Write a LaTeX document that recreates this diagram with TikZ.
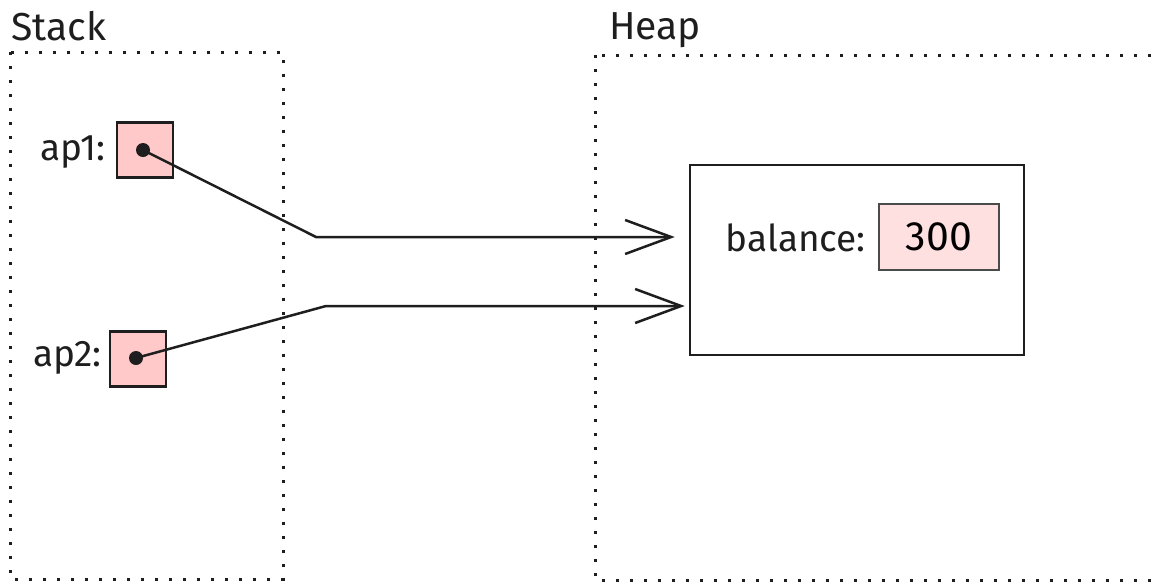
\documentclass[tikz,border=0pt]{standalone}
\usepackage{fontspec}
\setmainfont{Fira Sans}
\usetikzlibrary{arrows.meta,calc}
\definecolor{ptrred}{HTML}{FFC9C9}
\definecolor{valred}{HTML}{FFE0E0}
\definecolor{ink}{HTML}{1E1E1E}
\begin{document}
\begin{tikzpicture}[x=1pt,y=-1pt,
  frame/.style={draw=ink, line width=3pt, dash pattern=on 3pt off 11pt},
  ptrbox/.style={draw=ink, line width=2.2pt, fill=ptrred, minimum width=56pt, minimum height=55pt, inner sep=0pt},
  valbox/.style={draw=ink!80, line width=1.4pt, fill=valred, minimum width=120pt, minimum height=66pt, inner sep=0pt, font=\fontsize{41}{46}\selectfont},
  objbox/.style={draw=ink, line width=2.5pt, minimum width=334pt, minimum height=190pt, inner sep=0pt},
  dotnode/.style={circle, fill=ink, minimum size=14pt, inner sep=0pt},
  lbl/.style={font=\fontsize{37}{42}\selectfont, text=ink, inner sep=0pt},
  title/.style={font=\fontsize{39}{42}\selectfont, text=ink, inner sep=0pt, anchor=base west},
  ptr/.style={draw=ink, line width=2.5pt, -{Straight Barb[length=46pt, width=34pt, line width=2.5pt]}}
]
\useasboundingbox (0,0) rectangle (1159,582);

% frames
\draw[frame] (10,52) rectangle (283,579);
\draw[frame] (595,55) rectangle (1160,580);
\node[title] (stackT) at (11,40) {Stack};
\node[title] (heapT) at (609,39) {Heap};

% pointer boxes
\node[ptrbox] (ap1) at (145,150) {};
\node[ptrbox] (ap2) at (138,359) {};
\node[lbl, anchor=east] (ap1l) at (106,152) {ap1:};
\node[lbl, anchor=east] (ap2l) at (102,358) {ap2:};
\node[dotnode] (d1) at (143,150) {};
\node[dotnode] (d2) at (136,358) {};

% heap object
\node[objbox] (obj) at (857,260) {};
\node[valbox] (val) at (939,237) {300};
\node[lbl, anchor=east] (bal) at (866,238) {balance:};

% bends and tips
\coordinate (b1) at (316,237);
\coordinate (t1) at ($(obj.west)+(-14,-23)$);
\coordinate (b2) at (326,306);
\coordinate (t2) at ($(obj.west)+(-4,46)$);

\draw[ptr] (d1.center) -- (b1) -- (t1);
\draw[ptr] (d2.center) -- (b2) -- (t2);
\end{tikzpicture}
\end{document}
